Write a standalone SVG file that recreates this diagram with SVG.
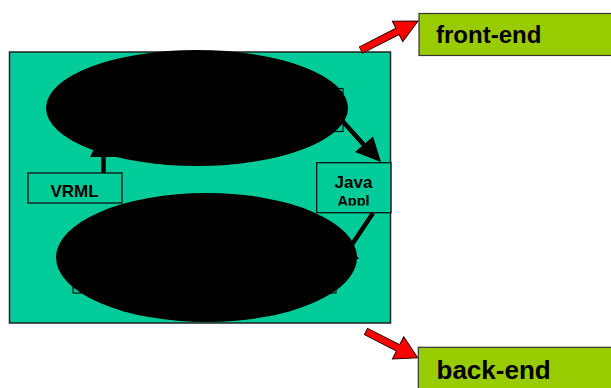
<svg xmlns="http://www.w3.org/2000/svg" width="611" height="388" viewBox="0 0 611 388">
<style>
.panel{fill:#00CC99;stroke:#222;stroke-width:1.5}
.lbl{fill:#99CC00;stroke:#333;stroke-width:1.2}
.box{fill:#00CC99;stroke:#111;stroke-width:1.3}
.hid{fill:none;stroke:#111;stroke-width:1.2}
.blob{fill:#000}
.t{font-family:"Liberation Sans",Arial,sans-serif;font-weight:bold;fill:#000}
.con{stroke:#000;stroke-width:4.5;fill:none}
.head{fill:#000}
.red{fill:#FF0000;stroke:#330000;stroke-width:1}
</style>
<defs>
<clipPath id="cJava"><rect x="317" y="163" width="74" height="42.5"/></clipPath>
</defs>
<g id="panel"><rect class="panel" x="9.5" y="52" width="381" height="271"/></g>
<g id="hidden-boxes">
<rect class="hid" x="100" y="88.5" width="243" height="43"/>
<rect class="hid" x="73" y="240" width="263" height="53"/>
</g>
<g id="connectors">
<line class="con" x1="103.5" y1="173" x2="103.5" y2="145"/>
<polygon class="head" points="90,157 117,157 103.5,130"/>
<line class="con" x1="338" y1="116" x2="364" y2="145"/>
<polygon class="head" points="355,152 373,136.5 381,162"/>
<line class="con" x1="373" y1="213" x2="345" y2="255"/>
<polygon class="head" points="359,258 350,252 350,264"/>
<polygon class="red" transform="translate(361,50) rotate(-27)" points="0,-3.5 41,-3.5 41,-11.5 64,0 41,11.5 41,3.5 0,3.5"/>
<polygon class="red" transform="translate(366,331.5) rotate(27)" points="0,-3.5 36,-3.5 36,-12.5 58,0 36,12.5 36,3.5 0,3.5"/>
</g>
<g id="top-ellipse"><ellipse class="blob" cx="197" cy="108" rx="151" ry="58"/></g>
<g id="bottom-ellipse"><ellipse class="blob" cx="206.5" cy="257.5" rx="150.5" ry="64.5"/></g>
<g id="vrml">
<rect class="box" x="28" y="173" width="94" height="30"/>
<text class="t" x="74.5" y="197" font-size="17" text-anchor="middle">VRML</text>
</g>
<g id="java-appl">
<rect class="box" x="316.7" y="162.7" width="74.3" height="50"/>
<g clip-path="url(#cJava)">
<text class="t" x="353.5" y="187.7" font-size="17" text-anchor="middle">Java</text>
<text class="t" x="353.5" y="205.5" font-size="14.5" text-anchor="middle">Appl</text>
</g>
</g>
<g id="front-end">
<rect class="lbl" x="419" y="13.5" width="200" height="42"/>
<text class="t" x="436" y="43.3" font-size="24">front-end</text>
</g>
<g id="back-end">
<rect class="lbl" x="418.3" y="347.3" width="200" height="50"/>
<text class="t" x="436.5" y="379.3" font-size="26">back-end</text>
</g>
</svg>
